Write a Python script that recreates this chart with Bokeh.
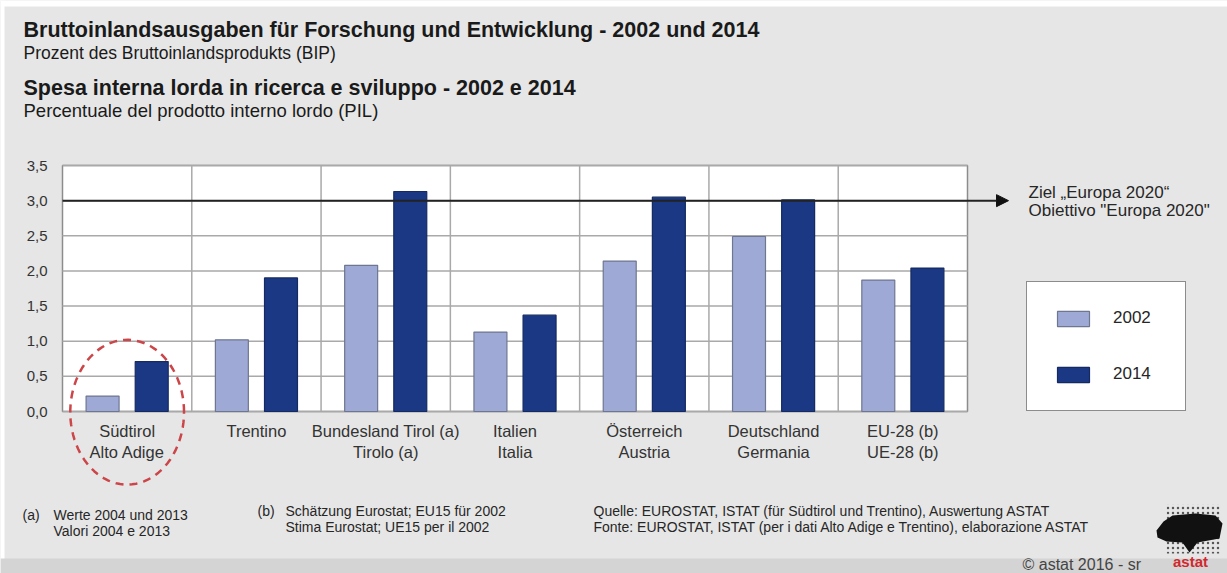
import numpy as np
from bokeh.plotting import figure
from bokeh.models import (Range1d, FixedTicker, CustomJSTickFormatter, Label, LinearAxis,
                          Arrow, NormalHead, BoxAnnotation, PolyAnnotation, ColumnDataSource)
from bokeh.transform import dodge
from bokeh.embed import file_html
from bokeh.resources import INLINE

# ---------------- data ----------------
categories = ["Südtirol\nAlto Adige", "Trentino", "Bundesland Tirol (a)\nTirolo (a)",
              "Italien\nItalia", "Österreich\nAustria", "Deutschland\nGermania",
              "EU-28 (b)\nUE-28 (b)"]
values_2002 = [0.22, 1.02, 2.08, 1.13, 2.14, 2.49, 1.87]
values_2014 = [0.71, 1.90, 3.13, 1.37, 3.05, 3.01, 2.04]
series_names = ["2002", "2014"]
y_ticks = [0.0, 0.5, 1.0, 1.5, 2.0, 2.5, 3.0, 3.5]
target = 3.0

title_de = "Bruttoinlandsausgaben für Forschung und Entwicklung - 2002 und 2014"
subtitle_de = "Prozent des Bruttoinlandsprodukts (BIP)"
title_it = "Spesa interna lorda in ricerca e sviluppo - 2002 e 2014"
subtitle_it = "Percentuale del prodotto interno lordo (PIL)"
target_text = ["Ziel „Europa 2020“", "Obiettivo \"Europa 2020\""]
note_a = ["(a)", "Werte 2004 und 2013", "Valori 2004 e 2013"]
note_b = ["(b)", "Schätzung Eurostat; EU15 für 2002", "Stima Eurostat; UE15 per il 2002"]
source_text = ["Quelle: EUROSTAT, ISTAT (für Südtirol und Trentino), Auswertung ASTAT",
               "Fonte: EUROSTAT, ISTAT (per i dati Alto Adige e Trentino), elaborazione ASTAT"]
copyright_text = "© astat 2016 - sr"
logo_text = "astat"

# ---------------- style / layout ----------------
FONT = "Liberation Sans"
BG = "#e6e6e6"
C2002 = "#9eaad5"
C2014 = "#1b3884"
L2002 = "#6f7690"
L2014 = "#142a60"
TXT = "#262626"
GRID = "#a9a9a9"

W, H = 1227, 573
BOX_L, BOX_R, BOX_T, BOX_B = 62, 967, 165, 411   # plot box in pixels
n = len(categories)
Y_MAX = 3.5
ux = (BOX_R - BOX_L) / n
uy = (BOX_B - BOX_T) / Y_MAX

x_range = Range1d(-BOX_L / ux, n + (W - BOX_R) / ux)
y_range = Range1d(-(H - BOX_B) / uy, Y_MAX + BOX_T / uy)


def sx(X):
    return X


def sy(Y):
    return H - Y


p = figure(width=W, height=H, x_range=x_range, y_range=y_range,
           x_axis_type=None, y_axis_type=None,
           output_backend="svg", toolbar_location=None,
           min_border=0, min_border_left=0, min_border_right=0,
           min_border_top=0, min_border_bottom=0)
p.border_fill_color = BG
p.background_fill_color = BG
p.outline_line_color = None
p.xgrid.visible = False
p.ygrid.visible = False

# white page border like the reference
for l, r, b, t in [(0, W, sy(6), H), (0, 4, 0, H)]:
    p.add_layout(BoxAnnotation(left=l, right=r, bottom=b, top=t,
                               left_units="screen", right_units="screen",
                               top_units="screen", bottom_units="screen",
                               fill_color="white", fill_alpha=1, line_alpha=0, level="underlay"))

# footer strip
p.add_layout(BoxAnnotation(left=0, right=W, top=sy(558), bottom=0,
                           left_units="screen", right_units="screen",
                           top_units="screen", bottom_units="screen",
                           fill_color="#d4d4d4", fill_alpha=1, line_alpha=0, level="underlay"))

# plot box
p.add_layout(BoxAnnotation(left=0, right=n, bottom=0, top=Y_MAX,
                           fill_color="white", fill_alpha=1,
                           line_color="#8c8c8c", line_width=1.5, line_alpha=1, level="underlay"))

# grid lines
p.segment(x0=0, x1=n, y0=y_ticks, y1=y_ticks, line_color=GRID, line_width=1.5)
vlines = list(range(1, n))
p.segment(x0=vlines, x1=vlines, y0=0, y1=Y_MAX, line_color=GRID, line_width=1.5)

# bars
source = ColumnDataSource(dict(pos=[i + 0.5 for i in range(n)], cat=categories,
                               v2002=values_2002, v2014=values_2014))
p.vbar(x=dodge("pos", -0.19), top="v2002", width=0.255, source=source,
       fill_color=C2002, line_color=L2002, line_width=1.2, legend_label=series_names[0])
p.vbar(x=dodge("pos", 0.19), top="v2014", width=0.255, source=source,
       fill_color=C2014, line_color=L2014, line_width=1.2, legend_label=series_names[1])

# axes (drawn at the plot box edges)
yax = LinearAxis(fixed_location=0, ticker=FixedTicker(ticks=y_ticks),
                 formatter=CustomJSTickFormatter(code="return tick.toFixed(1).replace('.', ',')"))
xax = LinearAxis(fixed_location=0, ticker=FixedTicker(ticks=[i + 0.5 for i in range(n)]),
                 formatter=CustomJSTickFormatter(args=dict(labels=categories),
                                                 code="return labels[Math.floor(tick)]"))
for ax in (xax, yax):
    ax.axis_line_color = None
    ax.major_tick_line_color = None
    ax.minor_tick_line_color = None
    ax.major_tick_in = 0
    ax.major_tick_out = 0
    ax.major_label_text_font = FONT
    ax.major_label_text_color = "#333333"
yax.major_label_text_font_size = "15px"
yax.major_label_standoff = 15
xax.major_label_text_font_size = "16.5px"
xax.major_label_standoff = 10
xax.major_label_text_line_height = 1.2
p.add_layout(yax, "left")
p.add_layout(xax, "below")

# target line with arrow
p.add_layout(Arrow(x_start=0, y_start=target, x_end=n + (1008 - BOX_R) / ux, y_end=target,
                   line_color="#222222", line_width=2,
                   end=NormalHead(size=12, fill_color="#111111", line_color="#111111")))

# legend
lg = p.legend[0]
lg.location = (sx(1026), sy(411))
lg.border_line_color = "#8c8c8c"
lg.border_line_width = 1.5
lg.border_line_alpha = 1
lg.background_fill_color = "white"
lg.background_fill_alpha = 1
lg.padding = 26
lg.spacing = 36
lg.glyph_width = 40
lg.glyph_height = 19
lg.label_standoff = 20
lg.label_width = 46
lg.label_height = 19
lg.label_text_font = FONT
lg.label_text_font_size = "17px"
lg.label_text_color = TXT


def label(X, Y, text, size="15px", bold=False, color=TXT, align="left"):
    p.add_layout(Label(x=sx(X), y=sy(Y), x_units="screen", y_units="screen", text=text,
                       text_font=FONT, text_font_size=size,
                       text_font_style="bold" if bold else "normal",
                       text_color=color, text_baseline="middle", text_align=align))


# titles
label(23, 29.5, title_de, "21.5px", True, "#1a1a1a")
label(23, 52, subtitle_de, "17.5px", False, "#1a1a1a")
label(23, 87, title_it, "21.5px", True, "#1a1a1a")
label(23, 110, subtitle_it, "18.5px", False, "#1a1a1a")

# target text
label(1028, 191.5, target_text[0], "17px")
label(1028, 210, target_text[1], "17px")

# footnotes
label(22, 514, note_a[0], "14px")
label(53, 514, note_a[1], "14px")
label(53, 530, note_a[2], "14px")
label(257, 510, note_b[0], "14px")
label(285, 510, note_b[1], "14px")
label(285, 526, note_b[2], "14px")
label(593, 510, source_text[0], "14px")
label(593, 526, source_text[1], "14px")
label(1022, 564, copyright_text, "16px", False, "#444444")

# dashed ellipse around South Tyrol
t = np.linspace(0, 2 * np.pi, 90)
p.add_layout(PolyAnnotation(xs=list(0.5 + 0.44 * np.cos(t)), ys=list(-0.01 + 1.03 * np.sin(t)),
                            fill_alpha=0, line_color="#cc4548", line_alpha=1,
                            line_width=2.5, line_dash="8 6"))

# logo (approximation)
p.add_layout(BoxAnnotation(left=sx(1166), right=sx(1220), top=sy(504), bottom=sy(553),
                           left_units="screen", right_units="screen",
                           top_units="screen", bottom_units="screen",
                           fill_alpha=0, line_alpha=0, hatch_pattern=".",
                           hatch_color="#333333", hatch_scale=5, hatch_alpha=0.8))
blob = [(1156, 530), (1163, 521), (1172, 515), (1195, 513), (1215, 515), (1222, 523),
        (1219, 538), (1197, 542), (1189, 552), (1182, 542), (1166, 541), (1157, 537)]
p.add_layout(PolyAnnotation(xs=[sx(a) for a, b in blob], ys=[sy(b) for a, b in blob],
                            xs_units="screen", ys_units="screen",
                            fill_color="#111111", fill_alpha=1, line_alpha=0))
label(1190, 561, logo_text, "15px", True, "#d0282d", "center")

open("out.html", "w").write(file_html(p, INLINE))
